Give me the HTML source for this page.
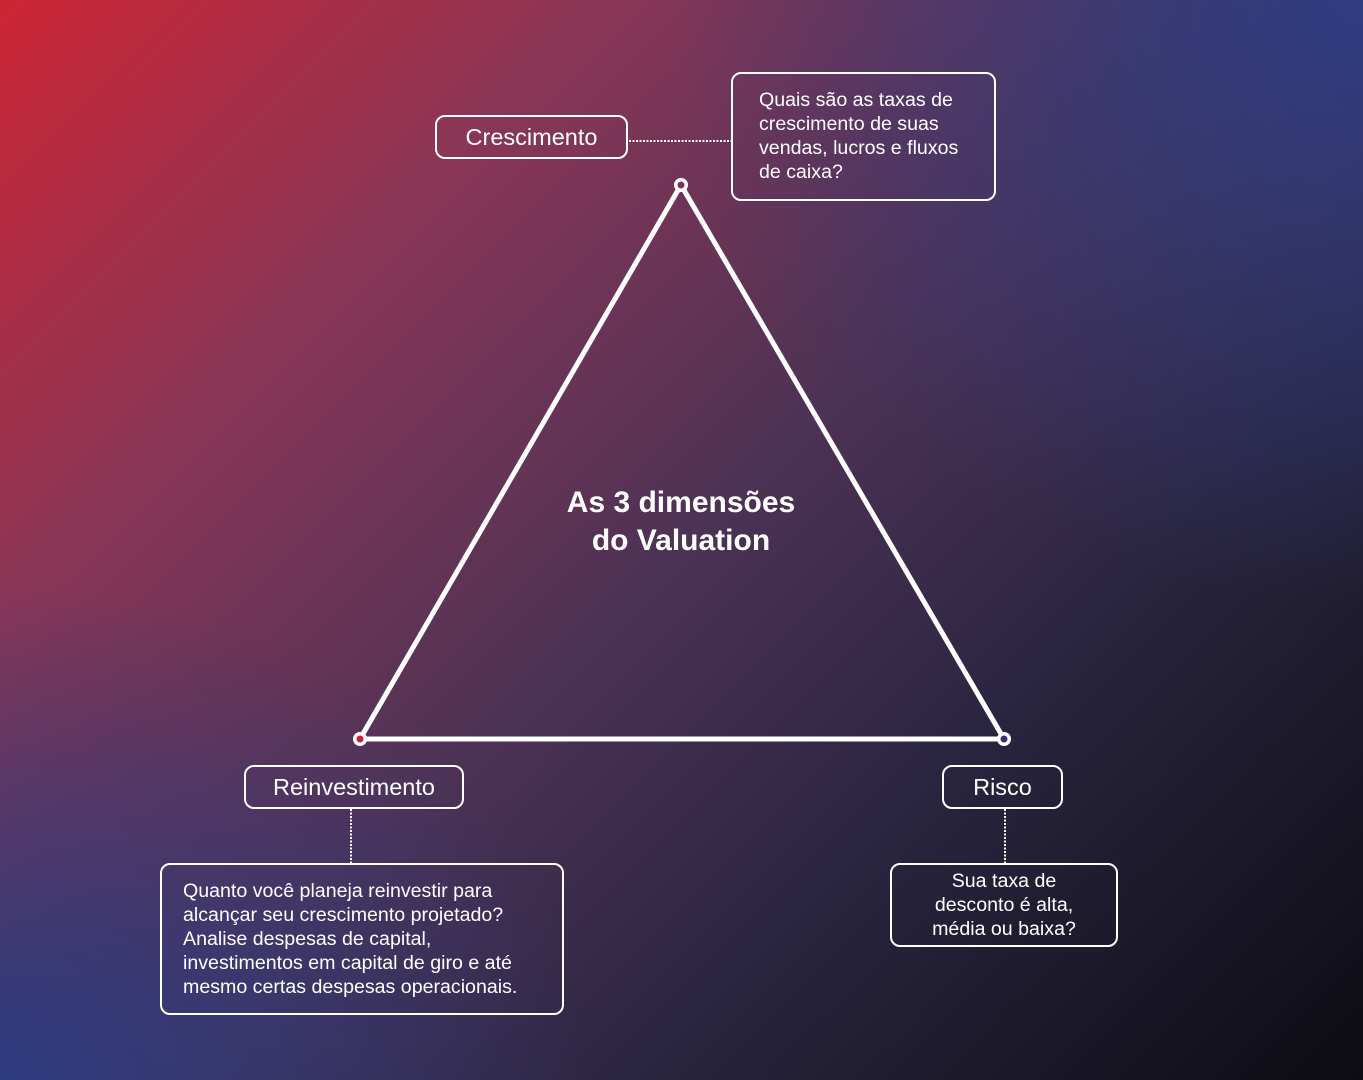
<!DOCTYPE html>
<html><head><meta charset="utf-8"><style>
html,body{margin:0;padding:0;width:1363px;height:1080px;overflow:hidden}
body{position:relative;font-family:"Liberation Sans",sans-serif;color:#fff;
background:
radial-gradient(ellipse 700px 600px at 1363px 0px, rgba(46,62,132,0.95), rgba(46,62,132,0) 100%),
radial-gradient(ellipse 600px 500px at 0px 1080px, rgba(42,60,130,0.95), rgba(42,60,130,0) 100%),
linear-gradient(135deg,#cc2534 0%,#8a3656 25%,#4d3255 50%,#2a2540 70%,#0c0c12 100%);}
.box{position:absolute;box-sizing:border-box;border:2px solid #fff;border-radius:10px;}
.lbl{font-size:23.5px;text-align:center;display:flex;align-items:center;justify-content:center}
.txt{font-size:19.6px;line-height:24px}
.title{position:absolute;left:481px;width:400px;top:484px;text-align:center;font-weight:bold;font-size:30px;line-height:38px}
</style></head><body>
<svg width="1363" height="1080" style="position:absolute;left:0;top:0">
<polygon points="681,185 360,739 1004,739" fill="none" stroke="#fff" stroke-width="5" stroke-linejoin="round"/>
<line x1="629" y1="141" x2="731" y2="141" stroke="#fff" stroke-width="2" stroke-dasharray="2,1.5"/>
<line x1="351" y1="809" x2="351" y2="863" stroke="#fff" stroke-width="2" stroke-dasharray="2,1.5"/>
<line x1="1005" y1="809" x2="1005" y2="863" stroke="#fff" stroke-width="2" stroke-dasharray="2,1.5"/>
<circle cx="681" cy="185" r="7" fill="#fff"/><circle cx="681" cy="185" r="3.5" fill="#7a3558"/>
<circle cx="360" cy="739" r="7" fill="#fff"/><circle cx="360" cy="739" r="3.5" fill="#c8203a"/>
<circle cx="1004" cy="739" r="7" fill="#fff"/><circle cx="1004" cy="739" r="3.5" fill="#3a2e78"/>
</svg>
<div class="box lbl" style="left:435px;top:115px;width:193px;height:44px">Crescimento</div>
<div class="box txt" style="left:731px;top:72px;width:265px;height:129px;padding:14px 0 0 26px">Quais são as taxas de<br>crescimento de suas<br>vendas, lucros e fluxos<br>de caixa?</div>
<div class="title">As 3 dimensões<br>do Valuation</div>
<div class="box lbl" style="left:244px;top:765px;width:220px;height:44px">Reinvestimento</div>
<div class="box lbl" style="left:942px;top:765px;width:121px;height:44px">Risco</div>
<div class="box txt" style="left:160px;top:863px;width:404px;height:152px;padding:14px 0 0 21px">Quanto você planeja reinvestir para<br>alcançar seu crescimento projetado?<br>Analise despesas de capital,<br>investimentos em capital de giro e até<br>mesmo certas despesas operacionais.</div>
<div class="box txt" style="left:890px;top:863px;width:228px;height:84px;padding:4px 0 0 0;text-align:center">Sua taxa de<br>desconto é alta,<br>média ou baixa?</div>
</body></html>
